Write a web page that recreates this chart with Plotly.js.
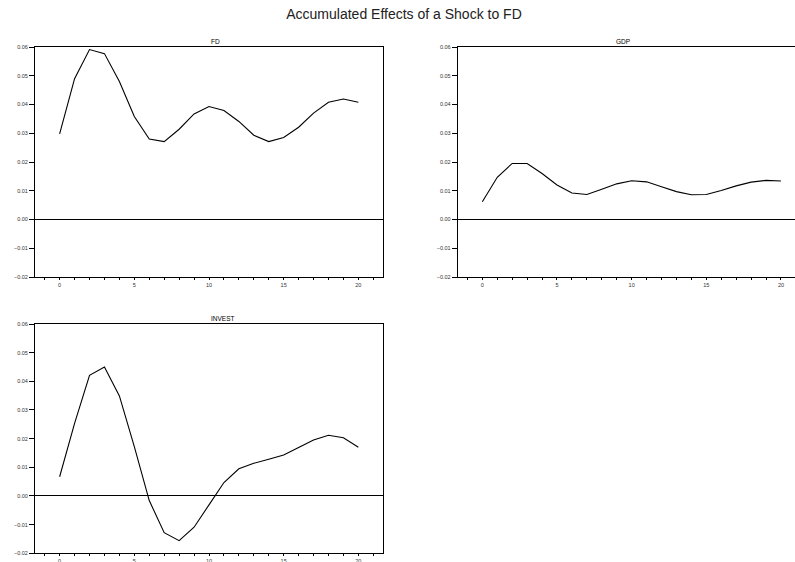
<!DOCTYPE html>
<html>
<head>
<meta charset="utf-8">
<script src="https://cdn.plot.ly/plotly-3.0.1.min.js"></script>
<style>
html,body{margin:0;padding:0;overflow:hidden;background:#fff;width:795px;height:562px;}
#chart{width:812px;height:572px;}
</style>
</head>
<body>
<div id="chart"></div>
<script>
const periods = [0,1,2,3,4,5,6,7,8,9,10,11,12,13,14,15,16,17,18,19,20];
const fdValues = [0.0298,0.0490,0.0591,0.0577,0.0480,0.0358,0.0280,0.0271,0.0314,0.0367,0.0393,0.0379,0.0341,0.0293,0.0271,0.0285,0.0321,0.0370,0.0408,0.0419,0.0408];
const gdpValues = [0.0062,0.0147,0.0195,0.0195,0.0160,0.0120,0.0092,0.0087,0.0105,0.0124,0.0135,0.0131,0.0114,0.0097,0.0086,0.0087,0.0101,0.0117,0.0130,0.0136,0.0134];
const investValues = [0.0067,0.0253,0.0421,0.0450,0.0349,0.0172,-0.0016,-0.0128,-0.0156,-0.0109,-0.0031,0.0047,0.0095,0.0114,0.0128,0.0143,0.0169,0.0195,0.0212,0.0203,0.0170];
const panelTitles = ["FD","GDP","INVEST"];
const xTickVals = [0,5,10,15,20];
const yTickVals = [-0.02,-0.01,0.00,0.01,0.02,0.03,0.04,0.05,0.06];
const chartTitle = "Accumulated Effects of a Shock to FD";

const W = 812, H = 572;
const px = (a,b) => [a/W, b/W];
const py = (top,bot) => [1-bot/H, 1-top/H];

const line = {color:'#000', width:1.1};
const traces = [
  {x:periods, y:fdValues, xaxis:'x', yaxis:'y', mode:'lines', line:line, hoverinfo:'skip'},
  {x:periods, y:gdpValues, xaxis:'x2', yaxis:'y2', mode:'lines', line:line, hoverinfo:'skip'},
  {x:periods, y:investValues, xaxis:'x3', yaxis:'y3', mode:'lines', line:line, hoverinfo:'skip'}
];

const tickFont = {family:'Liberation Sans, Arial, sans-serif', size:5.5, color:'#333'};
function xa(domain, anchor){
  return {domain:domain, anchor:anchor, range:[-1.65,21.65], showgrid:false, zeroline:false,
    showline:true, mirror:true, linecolor:'#000', linewidth:1,
    tickmode:'array', tickvals:xTickVals, ticks:'outside', ticklen:2, tickwidth:1, tickcolor:'#000',
    minor:{dtick:1, tick0:0, ticks:'outside', ticklen:2, tickwidth:1, tickcolor:'#000', showgrid:false},
    tickfont:tickFont, fixedrange:true};
}
function ya(domain, anchor){
  return {domain:domain, anchor:anchor, range:[-0.02,0.06], showgrid:false,
    zeroline:true, zerolinecolor:'#000', zerolinewidth:1,
    showline:true, mirror:true, linecolor:'#000', linewidth:1,
    tickmode:'array', tickvals:yTickVals, tickformat:'.2f', ticks:'outside', ticklen:5, tickwidth:1, tickcolor:'#000',
    tickfont:tickFont, fixedrange:true};
}
const d1x = px(35,383), d2x = px(457.7,805.6);
const dTop = py(47,277), dBot = py(324,553.3);

const titleFont = {family:'Liberation Sans, Arial, sans-serif', size:6.5, color:'#000'};
const layout = {
  width:W, height:H, margin:{l:0,r:0,t:0,b:0}, paper_bgcolor:'#fff', plot_bgcolor:'#fff',
  showlegend:false,
  title:{text:chartTitle, x:404/W, xanchor:'center', y:1-14/H, yanchor:'middle',
    font:{family:'Liberation Sans, Arial, sans-serif', size:14, color:'#222'}},
  xaxis:xa(d1x,'y'), yaxis:ya(dTop,'x'),
  xaxis2:xa(d2x,'y2'), yaxis2:ya(dTop,'x2'),
  xaxis3:xa(d1x,'y3'), yaxis3:ya(dBot,'x3'),
  annotations:[
    {text:panelTitles[0], xref:'paper', yref:'paper', x:(d1x[0]+d1x[1])/2, y:dTop[1], yanchor:'bottom', showarrow:false, font:titleFont, yshift:0},
    {text:panelTitles[1], xref:'paper', yref:'paper', x:(d2x[0]+d2x[1])/2, y:dTop[1], yanchor:'bottom', showarrow:false, font:titleFont, yshift:0},
    {text:panelTitles[2], xref:'paper', yref:'paper', x:(d1x[0]+d1x[1])/2, y:dBot[1], yanchor:'bottom', showarrow:false, font:titleFont, yshift:0}
  ]
};
Plotly.newPlot('chart', traces, layout, {displayModeBar:false, staticPlot:true});
</script>
</body>
</html>
